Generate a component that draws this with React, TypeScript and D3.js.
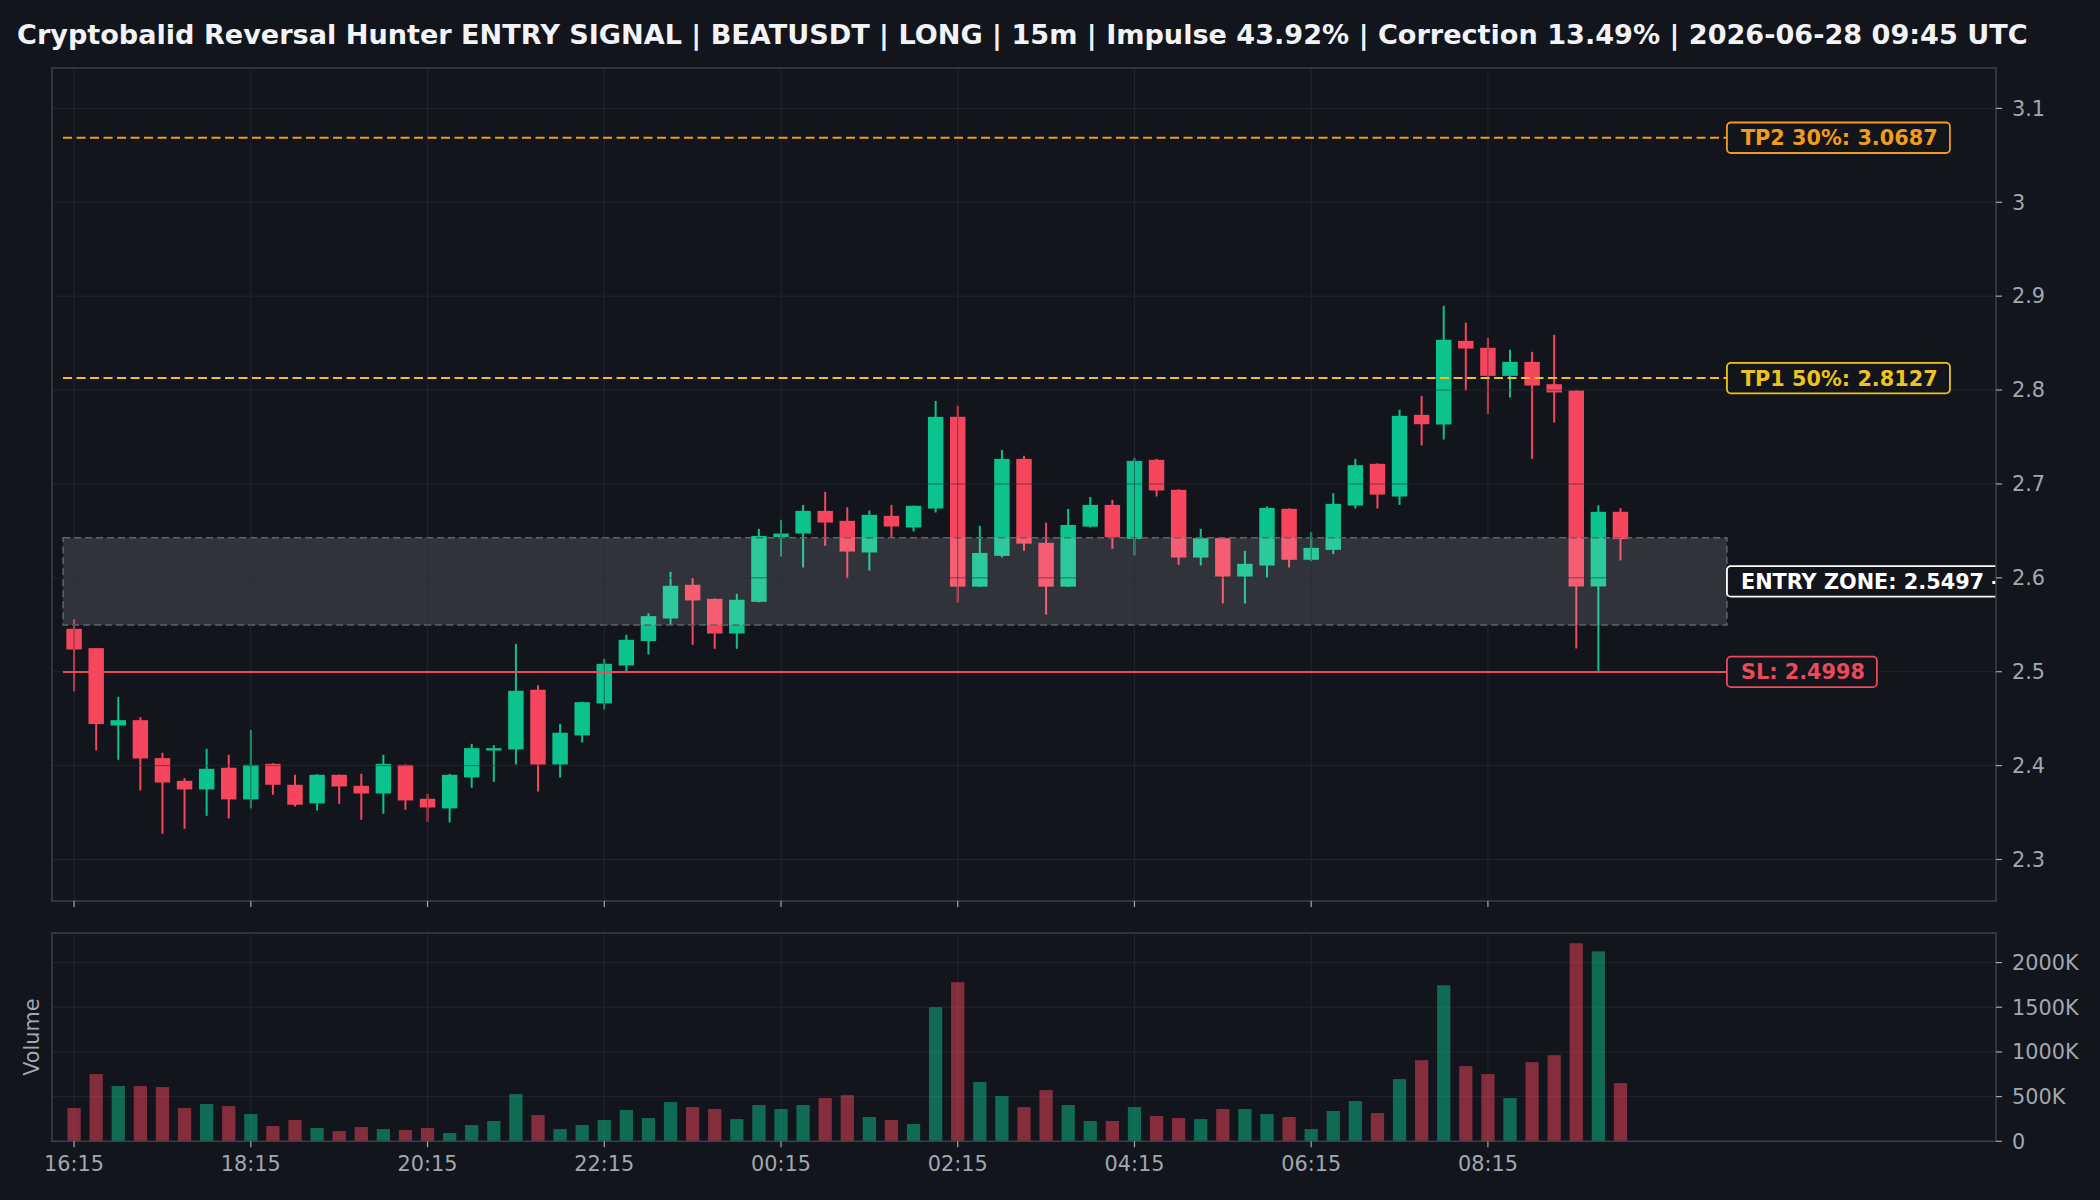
import React from "react";
import * as d3 from "d3";

const opens = [2.5457,2.5251,2.4427,2.4484,2.408,2.3838,2.3746,2.3977,2.364,2.4019,2.3796,2.3597,2.3902,2.3785,2.3703,2.4008,2.3647,2.3544,2.3874,2.4161,2.4172,2.4808,2.4012,2.4321,2.4662,2.5066,2.5326,2.5567,2.5926,2.5776,2.5407,2.5744,2.6433,2.6472,2.6713,2.6607,2.627,2.666,2.6536,2.6738,2.7715,2.5906,2.6234,2.7267,2.6373,2.5906,2.6545,2.6777,2.6415,2.7257,2.6937,2.6216,2.6422,2.6014,2.6131,2.6735,2.6192,2.6298,2.677,2.7214,2.6866,2.7736,2.7633,2.8524,2.845,2.8151,2.83,2.8062,2.7995,2.5908,2.6703];
const highs = [2.556,2.5255,2.4733,2.4516,2.4136,2.3866,2.4179,2.4115,2.438,2.4025,2.3902,2.3909,2.3905,2.3913,2.4115,2.4012,2.37,2.3913,2.4232,2.4218,2.5297,2.4857,2.4445,2.468,2.5137,2.5393,2.5624,2.6064,2.6,2.578,2.583,2.6522,2.6618,2.6777,2.6916,2.6752,2.6717,2.6777,2.677,2.7885,2.7832,2.6554,2.7362,2.7299,2.6587,2.6733,2.6861,2.6831,2.7278,2.7267,2.6945,2.6522,2.6425,2.6287,2.676,2.674,2.6486,2.6902,2.7267,2.722,2.779,2.7938,2.8897,2.8719,2.8556,2.8428,2.8407,2.8588,2.8,2.6774,2.6742];
const lows = [2.479,2.4161,2.4062,2.3735,2.3274,2.3327,2.3465,2.3437,2.3544,2.3689,2.3565,2.3522,2.3593,2.3423,2.3487,2.3529,2.3402,2.3395,2.3764,2.3828,2.4012,2.3725,2.3874,2.4247,2.4598,2.4985,2.5184,2.5499,2.5287,2.5244,2.5244,2.574,2.6227,2.611,2.6341,2.5993,2.6078,2.643,2.6494,2.6696,2.5737,2.5904,2.6218,2.6288,2.5608,2.5904,2.6536,2.631,2.6238,2.6866,2.6138,2.6131,2.5727,2.5727,2.6003,2.611,2.6176,2.6252,2.6738,2.6738,2.6777,2.7409,2.7473,2.7995,2.7746,2.792,2.7267,2.7654,2.5247,2.4998,2.6185];
const closes = [2.5237,2.4442,2.4484,2.4076,2.382,2.3746,2.3966,2.364,2.4008,2.3796,2.3583,2.3902,2.3778,2.3703,2.4019,2.3629,2.3554,2.3902,2.4186,2.4186,2.4797,2.4012,2.435,2.4676,2.5084,2.534,2.5592,2.5915,2.5759,2.5407,2.5766,2.6447,2.6472,2.6713,2.6589,2.628,2.6671,2.6547,2.6767,2.7715,2.5906,2.6265,2.7267,2.6364,2.5906,2.6563,2.6777,2.6431,2.7246,2.693,2.6216,2.6422,2.6014,2.6149,2.6745,2.6192,2.6319,2.6788,2.72,2.6887,2.7725,2.7636,2.8535,2.8442,2.8151,2.83,2.8048,2.7974,2.5908,2.6703,2.6412];
const volumesK = [372,752,618,618,607,372,417,394,305,171,238,149,115,160,137,126,149,93,182,227,528,294,137,182,238,350,260,439,383,361,249,406,361,406,484,517,272,238,193,1501,1780,663,506,383,573,406,227,227,383,283,260,249,361,361,305,272,137,339,450,316,696,908,1746,841,752,484,886,964,2216,2126,651];

const timeTickIdx = [0,8,16,24,32,40,48,56,64];
const timeTickLabels = ["16:15","18:15","20:15","22:15","00:15","02:15","04:15","06:15","08:15"];
const priceTicks = [2.3,2.4,2.5,2.6,2.7,2.8,2.9,3.0,3.1];
const volTicksK = [0,500,1000,1500,2000];

const entryLow = 2.5497;
const entryHigh = 2.6427;
const slPrice = 2.4998;
const tp1Price = 2.8127;
const tp2Price = 3.0687;
const title = "Cryptobalid Reversal Hunter ENTRY SIGNAL | BEATUSDT | LONG | 15m | Impulse 43.92% | Correction 13.49% | 2026-06-28 09:45 UTC";
const entryLabel = "ENTRY ZONE: 2.5497 -";

const BG = "#12151c";
const UP = "#0cc28e";
const DOWN = "#f6465d";
const TP1C = "#eec31b";
const TP2C = "#f39c1a";
const SLC = "#ec4a5c";
const FRAME = "#3b3f48";
const TICKC = "#a3a7ae";
const FONT = "'DejaVu Sans', sans-serif";

export default function App() {
  React.useEffect(() => {
    document.body.style.margin = "0";
    document.body.style.background = BG;
  }, []);
  const L = 52, R = 1996, T = 68, B = 901;
  const VT = 933, VB = 1141.3;
  const n = opens.length;
  const x = d3.scaleLinear().domain([-1, 87]).range([L, R]);
  const y = d3.scaleLinear().domain([2.2558, 3.143]).range([B, T]);
  const yv = d3.scaleLinear().domain([0, 2331]).range([VB, VT]);
  const step = x(1) - x(0);
  const bw = step * 0.7;
  const vw = step * 0.6;
  const lineX0 = x(-0.5);
  const lineX1 = x(74.82);
  const idx = d3.range(n);
  const gridC = "#2a2e39";
  const labelFs = 20.8;
  const boxH = 30.5;
  const box = (price: number, text: string, color: string, w: number, key: string) => (
    <g key={key}>
      <rect x={lineX1} y={y(price) - boxH / 2} width={w} height={boxH} rx={4} fill={BG} stroke={color} strokeWidth={1.8} />
      <text x={lineX1 + 14} y={y(price)} dy="0.36em" fill={color} fontSize={labelFs} fontWeight="bold" fontFamily={FONT}>{text}</text>
    </g>
  );
  return (
    <svg width={2100} height={1200} style={{ position: "absolute", left: 0, top: 0, display: "block" }} fontFamily={FONT}>
      <defs>
        <clipPath id="mainClip"><rect x={L} y={T} width={R - L} height={B - T} /></clipPath>
      </defs>
      <rect x={0} y={0} width={2100} height={1200} fill={BG} />
      <text x={17} y={43.5} fill="#f1f3f6" fontSize={27.1} fontWeight="bold">{title}</text>

      <g clipPath="url(#mainClip)">
        {idx.map(i => {
          const up = closes[i] >= opens[i];
          const c = up ? UP : DOWN;
          const top = y(Math.max(opens[i], closes[i]));
          const bot = y(Math.min(opens[i], closes[i]));
          return (
            <g key={"c" + i}>
              <line x1={x(i)} x2={x(i)} y1={y(highs[i])} y2={y(lows[i])} stroke={c} strokeWidth={2} />
              <rect x={x(i) - bw / 2} y={top} width={bw} height={Math.max(1.5, bot - top)} fill={c} />
            </g>
          );
        })}
        <rect x={lineX0} y={y(entryHigh)} width={lineX1 - lineX0} height={y(entryLow) - y(entryHigh)} fill="#ffffff" fillOpacity={0.13} stroke="#60636b" strokeWidth={1.5} strokeDasharray="7,4" />
        {priceTicks.map(p => (
          <line key={"gy" + p} x1={L} x2={R} y1={y(p)} y2={y(p)} stroke={gridC} strokeOpacity={0.6} strokeWidth={1} />
        ))}
        {timeTickIdx.map(i => (
          <line key={"gx" + i} x1={x(i)} x2={x(i)} y1={T} y2={B} stroke={gridC} strokeOpacity={0.6} strokeWidth={1} />
        ))}
        <line x1={lineX0} x2={lineX1} y1={y(tp2Price)} y2={y(tp2Price)} stroke={TP2C} strokeWidth={2} strokeDasharray="9,4.5" />
        <line x1={lineX0} x2={lineX1} y1={y(tp1Price)} y2={y(tp1Price)} stroke={TP1C} strokeWidth={2} strokeDasharray="9,4.5" />
        <line x1={lineX0} x2={lineX1} y1={y(slPrice)} y2={y(slPrice)} stroke={SLC} strokeWidth={2} />
        {box(tp2Price, `TP2 30%: ${tp2Price.toFixed(4)}`, TP2C, 223, "tp2")}
        {box(tp1Price, `TP1 50%: ${tp1Price.toFixed(4)}`, TP1C, 223, "tp1")}
        {box(slPrice, `SL: ${slPrice.toFixed(4)}`, SLC, 150, "sl")}
        {box((entryLow + entryHigh) / 2, entryLabel, "#ffffff", 420, "entry")}
      </g>
      <rect x={L} y={T} width={R - L} height={B - T} fill="none" stroke={FRAME} strokeWidth={1.5} />
      {priceTicks.map(p => (
        <g key={"py" + p}>
          <line x1={R} x2={R + 6} y1={y(p)} y2={y(p)} stroke={TICKC} strokeWidth={1.2} />
          <text x={2012} y={y(p)} dy="0.35em" fill={TICKC} fontSize={20.8}>{String(p)}</text>
        </g>
      ))}
      {timeTickIdx.map(i => (
        <line key={"mt" + i} x1={x(i)} x2={x(i)} y1={B} y2={B + 6} stroke={TICKC} strokeWidth={1.2} />
      ))}

      {volTicksK.map(v => (
        <line key={"vg" + v} x1={L} x2={R} y1={yv(v)} y2={yv(v)} stroke={gridC} strokeOpacity={0.6} strokeWidth={1} />
      ))}
      {timeTickIdx.map(i => (
        <line key={"vgx" + i} x1={x(i)} x2={x(i)} y1={VT} y2={VB} stroke={gridC} strokeOpacity={0.6} strokeWidth={1} />
      ))}
      {idx.map(i => {
        const up = closes[i] >= opens[i];
        return (
          <rect key={"v" + i} x={x(i) - vw / 2} y={yv(volumesK[i])} width={vw} height={yv(0) - yv(volumesK[i])} fill={up ? UP : DOWN} fillOpacity={0.5} />
        );
      })}
      <rect x={L} y={VT} width={R - L} height={VB - VT} fill="none" stroke={FRAME} strokeWidth={1.5} />
      {volTicksK.map(v => (
        <g key={"vt" + v}>
          <line x1={R} x2={R + 6} y1={yv(v)} y2={yv(v)} stroke={TICKC} strokeWidth={1.2} />
          <text x={2012} y={yv(v)} dy="0.35em" fill={TICKC} fontSize={20.8}>{v === 0 ? "0" : `${v}K`}</text>
        </g>
      ))}
      {timeTickIdx.map((i, k) => (
        <g key={"xt" + i}>
          <line x1={x(i)} x2={x(i)} y1={VB} y2={VB + 6} stroke={TICKC} strokeWidth={1.2} />
          <text x={x(i)} y={VB + 30} textAnchor="middle" fill={TICKC} fontSize={20.8}>{timeTickLabels[k]}</text>
        </g>
      ))}
      <text transform={`translate(39,${(VT + VB) / 2}) rotate(-90)`} textAnchor="middle" fill={TICKC} fontSize={20.8}>Volume</text>
    </svg>
  );
}
